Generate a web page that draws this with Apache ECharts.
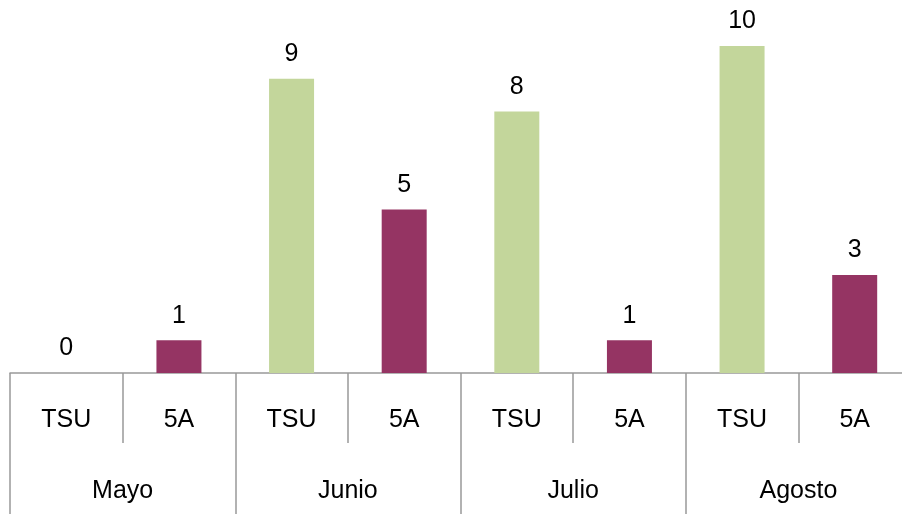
<!DOCTYPE html>
<html>
<head>
<meta charset="utf-8">
<script src="https://cdn.jsdelivr.net/npm/echarts@6/dist/echarts.min.js"></script>
<style>html,body{margin:0;padding:0;background:#fff;overflow:hidden;width:902px;height:514px;}#c{width:912px;height:514px;}</style>
</head>
<body>
<div id="c"></div>
<script>
var months = ['Mayo', 'Junio', 'Julio', 'Agosto'];
var groups = ['TSU', '5A'];
var tsuValues = [0, 9, 8, 10];
var fiveAValues = [1, 5, 1, 3];
var groupColors = ['#C3D69B', '#953463'];

var categories = [];
var barData = [];
months.forEach(function (m, i) {
  categories.push(groups[0]);
  barData.push({ value: tsuValues[i], itemStyle: { color: groupColors[0] } });
  categories.push(groups[1]);
  barData.push({ value: fiveAValues[i], itemStyle: { color: groupColors[1] } });
});

var FONT = 'Liberation Sans';
var chart = echarts.init(document.getElementById('c'), null, { renderer: 'canvas' });
chart.setOption({
  animation: false,
  grid: { left: 10, top: 46, width: 901, bottom: 141, containLabel: false },
  xAxis: [
    {
      type: 'category', data: categories, position: 'bottom',
      axisLine: { show: true, lineStyle: { color: '#999999', width: 1.5 } },
      axisTick: { show: true, interval: 0, length: 70, lineStyle: { color: '#999999', width: 1.5 } },
      axisLabel: { interval: 0, margin: 35, fontFamily: FONT, fontSize: 25, color: '#000' }
    },
    {
      type: 'category', data: months, position: 'bottom',
      axisLine: { show: false },
      axisTick: { show: true, interval: 0, length: 141, lineStyle: { color: '#999999', width: 1.5 } },
      axisLabel: { interval: 0, margin: 106, fontFamily: FONT, fontSize: 25, color: '#000' }
    }
  ],
  yAxis: { type: 'value', min: 0, max: 10, show: false, splitLine: { show: false } },
  series: [{
    type: 'bar', xAxisIndex: 0, data: barData, barWidth: 45,
    label: { show: true, position: 'top', distance: 12, fontFamily: FONT, fontSize: 25, color: '#000' }
  }]
});
</script>
</body>
</html>
